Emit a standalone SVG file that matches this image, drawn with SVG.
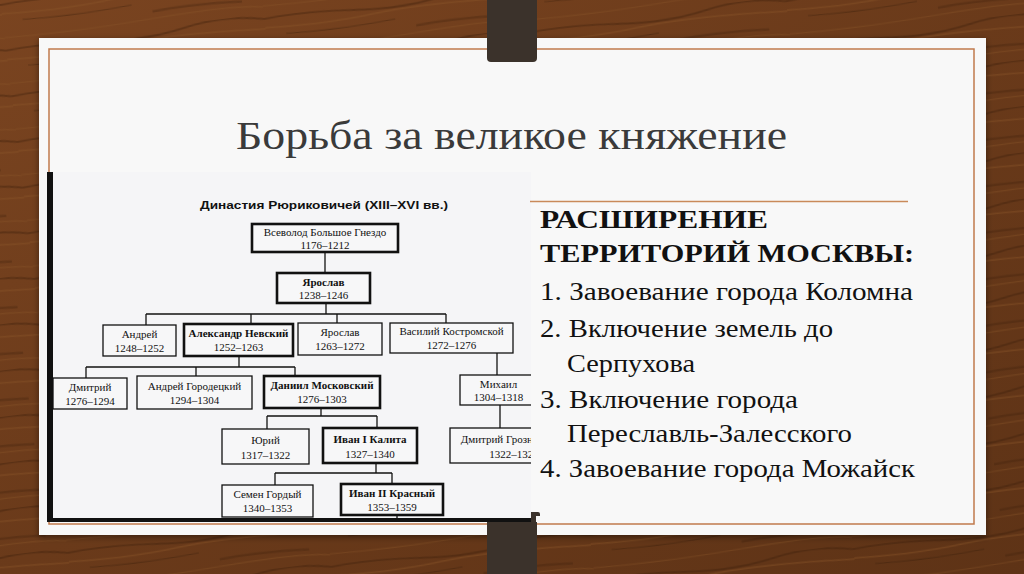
<svg xmlns="http://www.w3.org/2000/svg" width="1024" height="574" viewBox="0 0 1024 574">
<style>
.box{fill:#f7f7f8;stroke:#111;stroke-width:1.3}
.thick{stroke-width:2.6}
.nm{font-family:"Liberation Serif",serif;font-size:11px;fill:#111;text-anchor:middle}
.b{font-weight:bold}
.conn line{stroke:#111;stroke-width:1.3}
.rt{font-family:"Liberation Serif",serif;font-size:26px;fill:#111}
</style>
<defs>
<linearGradient id="wood" x1="0" y1="0" x2="1" y2="1">
<stop offset="0" stop-color="#7a4420"/>
<stop offset="0.5" stop-color="#6a3a1a"/>
<stop offset="1" stop-color="#5e3316"/>
</linearGradient>
<pattern id="grain" width="260" height="46" patternUnits="userSpaceOnUse" patternTransform="rotate(-7)">
<path d="M0 5 Q40 2 90 7 T180 4 T260 5" fill="none" stroke="#3d1f0b" stroke-width="2" opacity="0.4"/>
<path d="M0 14 Q60 18 110 13 T260 15" fill="none" stroke="#8a5428" stroke-width="1.5" opacity="0.45"/>
<path d="M20 22 Q70 25 130 21" fill="none" stroke="#2e1707" stroke-width="1.2" opacity="0.35"/>
<path d="M150 30 Q190 27 240 31" fill="none" stroke="#3d1f0b" stroke-width="2.5" opacity="0.3"/>
<path d="M0 38 Q70 41 150 37 T260 39" fill="none" stroke="#8a5428" stroke-width="1.2" opacity="0.4"/>
</pattern>
<filter id="sh" x="-5%" y="-5%" width="110%" height="115%">
<feDropShadow dx="0" dy="2" stdDeviation="3" flood-color="#000" flood-opacity="0.45"/>
</filter>
<clipPath id="imgclip"><rect x="49" y="172" width="482" height="350"/></clipPath>
</defs>

<g id="background">
<rect width="1024" height="574" fill="url(#wood)"/>
<rect width="1024" height="574" fill="url(#grain)"/>
</g>

<g id="card">
<rect x="39" y="38" width="947" height="497" fill="#f8f8f8" filter="url(#sh)"/>
<rect x="49" y="49" width="925" height="475" fill="none" stroke="#c07a4c" stroke-width="1.5"/>
</g>

<g id="strap-top">
<path d="M487 0 H537 V58 Q537 62 533 62 H491 Q487 62 487 58 Z" fill="#3b322b"/>
</g>

<text id="title" x="236" y="149" font-family="Liberation Serif, serif" font-size="39" fill="#3a3a3a" textLength="551" lengthAdjust="spacingAndGlyphs">Борьба за великое княжение</text>

<g id="scan">
<rect x="49" y="172" width="482" height="350" fill="#f5f5f7"/>
<g clip-path="url(#imgclip)">
<text x="200" y="209" font-family="Liberation Sans, sans-serif" font-weight="bold" font-size="11.5" fill="#111" textLength="248" lengthAdjust="spacingAndGlyphs">Династия Рюриковичей (XIII–XVI вв.)</text>

<g id="connectors" class="conn">
<line x1="325" y1="252" x2="325" y2="273"/>
<line x1="326" y1="303" x2="326" y2="314"/>
<line x1="146" y1="314" x2="446" y2="314"/>
<line x1="146" y1="314" x2="146" y2="325"/>
<line x1="251" y1="314" x2="251" y2="324"/>
<line x1="337" y1="314" x2="337" y2="323"/>
<line x1="446" y1="314" x2="446" y2="323"/>
<line x1="239" y1="356" x2="239" y2="367"/>
<line x1="86" y1="367" x2="295" y2="367"/>
<line x1="86" y1="367" x2="86" y2="378"/>
<line x1="196" y1="367" x2="196" y2="376"/>
<line x1="295" y1="367" x2="295" y2="376"/>
<line x1="497" y1="353" x2="497" y2="375"/>
<line x1="500" y1="405" x2="500" y2="428"/>
<line x1="321" y1="408" x2="321" y2="416"/>
<line x1="267" y1="416" x2="377" y2="416"/>
<line x1="267" y1="416" x2="267" y2="429"/>
<line x1="377" y1="416" x2="377" y2="428"/>
<line x1="376" y1="463" x2="376" y2="473"/>
<line x1="275" y1="473" x2="392" y2="473"/>
<line x1="275" y1="473" x2="275" y2="485"/>
<line x1="392" y1="473" x2="392" y2="484"/>
<line x1="397" y1="515" x2="397" y2="522"/>
</g>

<g id="n-vsevolod"><rect class="box thick" x="252" y="224" width="146" height="28"/><text class="nm" x="325" y="236">Всеволод Большое Гнездо</text><text class="nm" x="325" y="249">1176–1212</text></g>
<g id="n-yaroslav1"><rect class="box thick" x="277" y="273" width="93" height="30"/><text class="nm b" x="323.5" y="286">Ярослав</text><text class="nm" x="323.5" y="299">1238–1246</text></g>
<g id="n-andrey"><rect class="box" x="103" y="325" width="73" height="31"/><text class="nm" x="139.5" y="338">Андрей</text><text class="nm" x="139.5" y="352">1248–1252</text></g>
<g id="n-aleksandr"><rect class="box thick" x="184" y="324" width="109" height="32"/><text class="nm b" x="238.5" y="337">Александр Невский</text><text class="nm" x="238.5" y="351">1252–1263</text></g>
<g id="n-yaroslav2"><rect class="box" x="298" y="323" width="84" height="32"/><text class="nm" x="340" y="336">Ярослав</text><text class="nm" x="340" y="350">1263–1272</text></g>
<g id="n-vasiliy"><rect class="box" x="390" y="323" width="123" height="30"/><text class="nm" x="451.5" y="335">Василий Костромской</text><text class="nm" x="451.5" y="349">1272–1276</text></g>
<g id="n-dmitriy"><rect class="box" x="53" y="378" width="74" height="31"/><text class="nm" x="90" y="391">Дмитрий</text><text class="nm" x="90" y="405">1276–1294</text></g>
<g id="n-gorodetsky"><rect class="box" x="137" y="376" width="115" height="33"/><text class="nm" x="194.5" y="390">Андрей Городецкий</text><text class="nm" x="194.5" y="404">1294–1304</text></g>
<g id="n-daniil"><rect class="box thick" x="264" y="376" width="116" height="32"/><text class="nm b" x="322" y="389">Даниил Московский</text><text class="nm" x="322" y="403">1276–1303</text></g>
<g id="n-mikhail"><rect class="box" x="460" y="375" width="77" height="30"/><text class="nm" x="498.5" y="388">Михаил</text><text class="nm" x="498.5" y="401">1304–1318</text></g>
<g id="n-yuriy"><rect class="box" x="222" y="429" width="87" height="35"/><text class="nm" x="265.5" y="444">Юрий</text><text class="nm" x="265.5" y="459">1317–1322</text></g>
<g id="n-ivan1"><rect class="box thick" x="323" y="428" width="94" height="35"/><text class="nm b" x="370" y="443">Иван I Калита</text><text class="nm" x="370" y="458">1327–1340</text></g>
<g id="n-dmitriy-groznye"><rect class="box" x="450" y="428" width="128" height="35"/><text class="nm" x="514" y="443">Дмитрий Грозные Очи</text><text class="nm" x="514" y="458">1322–1326</text></g>
<g id="n-semen"><rect class="box" x="222" y="485" width="91" height="32"/><text class="nm" x="267.5" y="498">Семен Гордый</text><text class="nm" x="267.5" y="512">1340–1353</text></g>
<g id="n-ivan2"><rect class="box thick" x="341" y="484" width="102" height="31"/><text class="nm b" x="392" y="497">Иван II Красный</text><text class="nm" x="392" y="511">1353–1359</text></g>
</g>
<rect x="47" y="172" width="6" height="350" fill="#111"/>
<rect x="47" y="518" width="484" height="4" fill="#111"/>
</g>

<g id="strap-bottom">
<rect x="487" y="522" width="50" height="52" fill="#3b322b"/>
<path d="M531 512 H538 Q540 512 540 514 V516 H536 V522 H531 Z" fill="#3b322b"/>
</g>

<g id="right-text">
<line x1="530" y1="201.5" x2="908" y2="201.5" stroke="#c98a5a" stroke-width="1.5"/>
<text class="rt" x="540" y="228" font-weight="bold" textLength="228" lengthAdjust="spacingAndGlyphs">РАСШИРЕНИЕ</text>
<text class="rt" x="540" y="262" font-weight="bold" textLength="374" lengthAdjust="spacingAndGlyphs">ТЕРРИТОРИЙ МОСКВЫ:</text>
<text class="rt" x="540" y="300" textLength="373" lengthAdjust="spacingAndGlyphs">1. Завоевание города Коломна</text>
<text class="rt" x="540" y="337" textLength="293" lengthAdjust="spacingAndGlyphs">2. Включение земель до</text>
<text class="rt" x="567" y="372" textLength="128" lengthAdjust="spacingAndGlyphs">Серпухова</text>
<text class="rt" x="540" y="408" textLength="258" lengthAdjust="spacingAndGlyphs">3. Включение города</text>
<text class="rt" x="567" y="442" textLength="285" lengthAdjust="spacingAndGlyphs">Переславль-Залесского</text>
<text class="rt" x="540" y="477" textLength="375" lengthAdjust="spacingAndGlyphs">4. Завоевание города Можайск</text>
</g>
</svg>
